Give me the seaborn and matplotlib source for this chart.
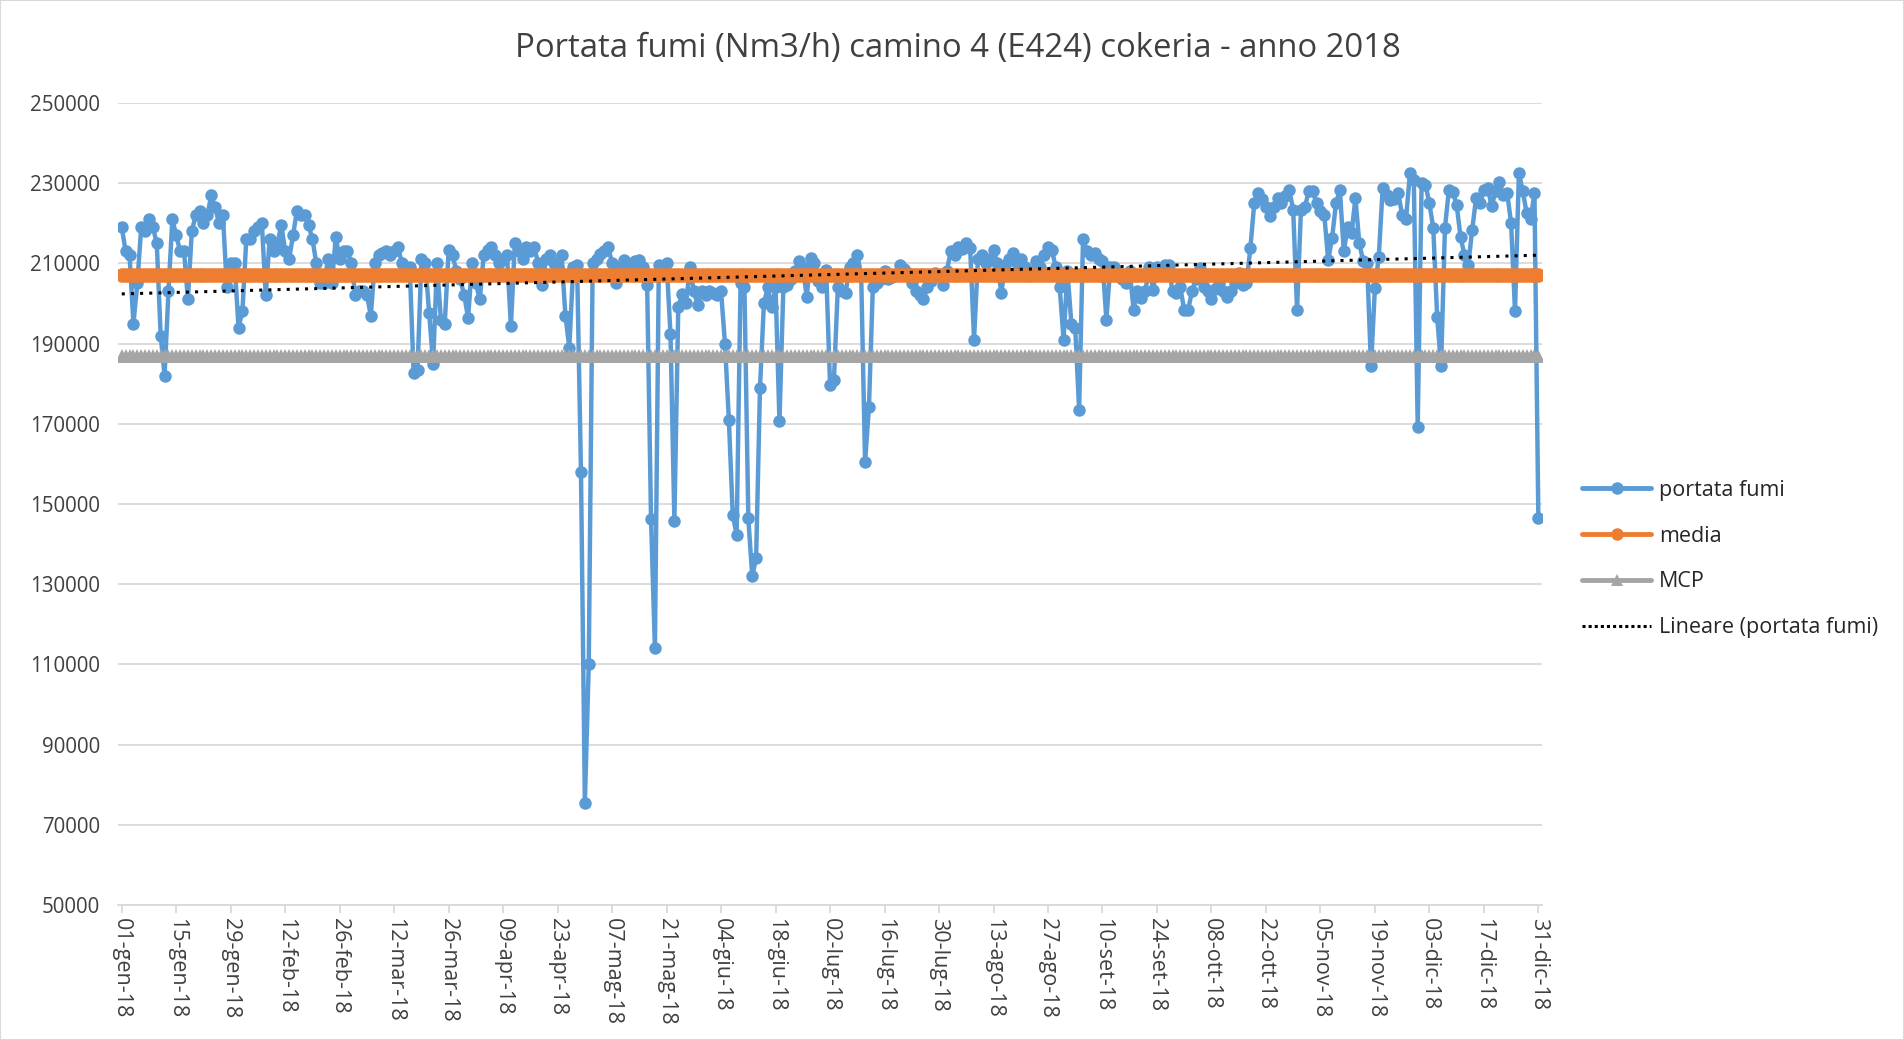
import numpy as np
import pandas as pd
import matplotlib
matplotlib.use("Agg")
import matplotlib.pyplot as plt
import seaborn as sns
from matplotlib.lines import Line2D
from matplotlib.patches import Rectangle

# daily flue gas flow (Nm3/h), one list per month
gen = [219000, 213000, 212000, 195000, 205000, 219000, 218000, 221000, 219000, 215000,
       192000, 182000, 203000, 221000, 217000, 213000, 213000, 201000, 218000, 222000,
       223000, 220000, 222000, 227000, 224000, 220000, 222000, 204000, 210000, 210000,
       194000]
feb = [198000, 216000, 216000, 218000, 219000, 220000, 202000, 216000, 213000, 215000,
       219600, 213000, 211000, 217000, 223000, 222000, 222000, 219500, 216000, 210000,
       205000, 205000, 211000, 205000, 216600, 211000, 213000, 213000]
mar = [210000, 202000, 203000, 203000, 202000, 197000, 210000, 212000, 212500, 213000,
       212000, 213000, 214000, 210000, 209000, 209000, 182600, 183500, 211000, 210000,
       197500, 185000, 210000, 196000, 195000, 213400, 212000, 208000, 206000, 202000,
       196400]
apr = [210000, 205000, 201000, 212000, 213400, 214000, 212000, 210000, 211000, 212000,
       194300, 215000, 213000, 211000, 214000, 213000, 214000, 210000, 204700, 211000,
       212000, 210000, 209000, 212000, 197000, 189000, 209000, 209700, 158000, 75500]
mag = [110000, 210000, 211000, 212400, 213000, 214000, 210000, 205000, 209000, 210800,
       210000, 209000, 210500, 210800, 209000, 204700, 146300, 114000, 209700, 209000,
       210200, 192400, 145800, 199000, 202400, 200000, 209000, 203000, 199700, 203000,
       202000]
giu = [203000, 202500, 202000, 203000, 190000, 171000, 147300, 142300, 205000, 204000,
       146500, 132000, 136500, 179000, 200000, 204000, 199000, 204000, 170600, 204000,
       204500, 206000, 208000, 210500, 209000, 201700, 211300, 210000, 205500, 204000]
lug = [208400, 179700, 181000, 204000, 203000, 202600, 209000, 210000, 212100, 207000,
       160400, 174300, 204200, 205000, 206000, 208000, 206000, 206500, 207000, 209600,
       208500, 207500, 205000, 203000, 202000, 201000, 204200, 205500, 207500, 207000,
       204700]
ago = [208000, 213000, 212000, 214000, 213500, 215000, 213800, 191000, 211000, 212000,
       210000, 211000, 213400, 210000, 202600, 209500, 211000, 212500, 210000, 211000,
       209000, 208000, 207000, 210500, 209000, 212000, 214200, 213400, 209000, 204200,
       191000]
set_ = [208000, 195000, 194000, 173500, 216000, 213000, 212000, 212500, 211000, 210500,
        196000, 209000, 209000, 207000, 206000, 205000, 208000, 198400, 203000, 201300,
        203000, 209000, 203400, 209200, 208000, 209500, 209600, 203000, 202600, 204000]
ott = [198400, 198400, 203000, 206000, 208800, 204000, 203000, 201000, 203500, 205000,
       203000, 201700, 203000, 205000, 207600, 204600, 205000, 213800, 225000, 227500,
       226000, 224000, 221700, 224000, 226300, 225000, 226700, 228300, 223400, 198400,
       223400]
nov = [224000, 228000, 228000, 225000, 223000, 222000, 210900, 216300, 225000, 228300,
       213000, 219000, 217500, 226300, 215000, 210500, 210000, 184300, 203800, 211700,
       228800, 227000, 225800, 226000, 227500, 222100, 221000, 232500, 230800, 169300]
dic = [230000, 229600, 225000, 218800, 196700, 184300, 218800, 228300, 227900, 224600,
       216700, 212100, 209600, 218400, 226300, 225000, 228300, 228700, 224200, 228000,
       230400, 227000, 227500, 220000, 198000, 232500, 228000, 222500, 221000, 227500,
       146500]

media_value = 207000
mcp_value = 187000

tick_labels = ["01-gen-18", "15-gen-18", "29-gen-18", "12-feb-18", "26-feb-18", "12-mar-18",
               "26-mar-18", "09-apr-18", "23-apr-18", "07-mag-18", "21-mag-18", "04-giu-18",
               "18-giu-18", "02-lug-18", "16-lug-18", "30-lug-18", "13-ago-18", "27-ago-18",
               "10-set-18", "24-set-18", "08-ott-18", "22-ott-18", "05-nov-18", "19-nov-18",
               "03-dic-18", "17-dic-18", "31-dic-18"]
y_ticks = [50000, 70000, 90000, 110000, 130000, 150000, 170000, 190000, 210000, 230000, 250000]

title = "Portata fumi (Nm3/h) camino 4 (E424) cokeria - anno 2018"

portata = gen + feb + mar + apr + mag + giu + lug + ago + set_ + ott + nov + dic

df = pd.DataFrame({"giorno": np.arange(len(portata)), "portata fumi": portata})
df["media"] = media_value
df["MCP"] = mcp_value
slope, intercept = np.polyfit(df["giorno"], df["portata fumi"], 1)
df["trend"] = intercept + slope * df["giorno"]

BLUE = "#5B9BD5"
ORANGE = "#ED7D31"
GREY = "#A5A5A5"
TEXT = "#404040"

sns.set_theme(style="white")
plt.rcParams["font.family"] = ["Open Sans", "DejaVu Sans"]

fig = plt.figure(figsize=(19.04, 10.40), dpi=100)
ax = fig.add_axes([0.0619, 0.1298, 0.7481, 0.7712])

sns.lineplot(data=df, x="giorno", y="portata fumi", ax=ax, color=BLUE, lw=3.2,
             marker="o", markersize=9, markeredgewidth=0, zorder=2)
sns.lineplot(data=df, x="giorno", y="media", ax=ax, color=ORANGE, lw=3.2,
             marker="o", markersize=10.5, markeredgewidth=0, zorder=3)
sns.lineplot(data=df, x="giorno", y="MCP", ax=ax, color=GREY, lw=3.2,
             marker="^", markersize=10, markeredgewidth=0, zorder=4)
ax.plot(df["giorno"], df["trend"], color="black", lw=2.2, linestyle=(0, (1, 2)), zorder=5)

ax.set_xlim(-1, len(portata))
ax.set_ylim(50000, 250000)
ax.set_yticks(y_ticks)
ax.set_yticklabels([str(v) for v in y_ticks])
ax.set_xticks(np.arange(0, len(portata), 14))
ax.set_xticklabels(tick_labels, rotation=-90)
ax.set_xlabel("")
ax.set_ylabel("")

ax.yaxis.grid(True, color="#D9D9D9", lw=1.3)
ax.set_axisbelow(True)
for s in ["top", "right", "left"]:
    ax.spines[s].set_visible(False)
ax.spines["bottom"].set_color("#D9D9D9")
ax.spines["bottom"].set_linewidth(1.3)
ax.tick_params(axis="y", length=0, pad=13, labelsize=14.8, labelcolor=TEXT)
ax.tick_params(axis="x", length=6, width=1.3, color="#D9D9D9", pad=3,
               labelsize=15.5, labelcolor=TEXT, bottom=True)

fig.text(0.503, 1 - 49 / 1040, title, ha="center", va="center", fontsize=23.7, color=TEXT)

handles = [
    Line2D([], [], color=BLUE, lw=3.5, marker="o", markersize=9, markeredgewidth=0),
    Line2D([], [], color=ORANGE, lw=3.5, marker="o", markersize=9, markeredgewidth=0),
    Line2D([], [], color=GREY, lw=3.5, marker="^", markersize=9, markeredgewidth=0),
    Line2D([], [], color="black", lw=2.2, linestyle=(0, (1, 1))),
]
labels = ["portata fumi", "media", "MCP", "Lineare (portata fumi)"]
fig.legend(handles, labels, loc="center left", bbox_to_anchor=(0.831, 0.4625),
           frameon=False, fontsize=15.5, handlelength=3.2, handletextpad=0.36,
           labelspacing=1.15, borderpad=0, borderaxespad=0, labelcolor="#262626")

fig.patches.append(Rectangle((0, 0), 1, 1, transform=fig.transFigure, fill=False,
                             edgecolor="#D9D9D9", lw=1.5))

fig.savefig("out.png", dpi=100)
